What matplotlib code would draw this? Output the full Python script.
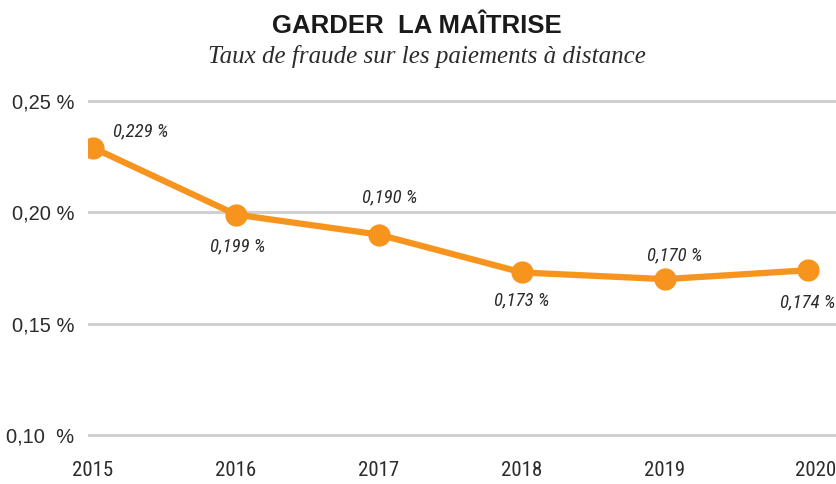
import matplotlib
matplotlib.use('Agg')
import matplotlib.pyplot as plt
from matplotlib.transforms import ScaledTranslation

years = [2015, 2016, 2017, 2018, 2019, 2020]
rates = [0.229, 0.199, 0.190, 0.173, 0.170, 0.174]
labels = ['0,229 %', '0,199 %', '0,190 %', '0,173 %', '0,170 %', '0,174 %']
yticks = [0.10, 0.15, 0.20, 0.25]
ytick_labels = ['0,10  %', '0,15 %', '0,20 %', '0,25 %']

# label offsets from each point, in points
label_offsets = [(34, 12), (1, -23), (8, 27), (0, -20), (7, 17), (0, -23)]

orange = '#F7941D'
narrow = ['Roboto Condensed', 'Liberation Sans', 'DejaVu Sans']
sans = ['Liberation Sans', 'DejaVu Sans']

W, H = 837, 484
fig = plt.figure(figsize=(W / 100, H / 100), dpi=100)

# axes placed in pixel terms: x from 88 to 837, y from 90 to 446
ax = fig.add_axes([88 / W, 1 - 446 / H, 1 - 88 / W, (446 - 90) / H])
ax.set_xlim(2015 - 5 / 143, 2015 + (837 - 93) / 143)
ax.set_ylim(0.10 - 11 * 0.05 / 111.3, 0.25 + 11 * 0.05 / 111.3)

for v in yticks:
    ax.axhline(v, color='#d0d0d0', lw=2.2, zorder=1)

ax.plot(years, rates, color=orange, lw=4.5, marker='o', ms=15,
        solid_capstyle='round', zorder=3)

for x, y, s, off in zip(years, rates, labels, label_offsets):
    ax.annotate(s, (x, y), xytext=off, textcoords='offset points',
                ha='center', va='center', fontsize=13.5, style='italic',
                family=narrow, color='#2b2b2b', annotation_clip=False)

ax.set_yticks(yticks)
ax.set_yticklabels(ytick_labels, family=sans, fontsize=14.5, color='#2b2b2b')
ax.set_xticks(years)
ax.set_xticklabels([str(y) for y in years], family=narrow, fontsize=15,
                   color='#2b2b2b')
ax.tick_params(length=0)
ax.tick_params(axis='y', pad=10)
ax.tick_params(axis='x', pad=11)
# last year label sits against the right edge
last = ax.get_xticklabels()[-1]
last.set_transform(last.get_transform() + ScaledTranslation(5.5 / 72, 0, fig.dpi_scale_trans))
for sp in ax.spines.values():
    sp.set_visible(False)

fig.text(417 / W, 1 - 26 / H, 'GARDER  LA MAÎTRISE', ha='center', va='center',
         fontsize=18.5, weight='bold', family=sans, color='#1a1a1a')
fig.text(427 / W, 1 - 56 / H, 'Taux de fraude sur les paiements à distance',
         ha='center', va='center', fontsize=18, style='italic',
         family=['Liberation Serif', 'DejaVu Serif'], color='#2b2b2b')

fig.savefig('out.png', dpi=100)
